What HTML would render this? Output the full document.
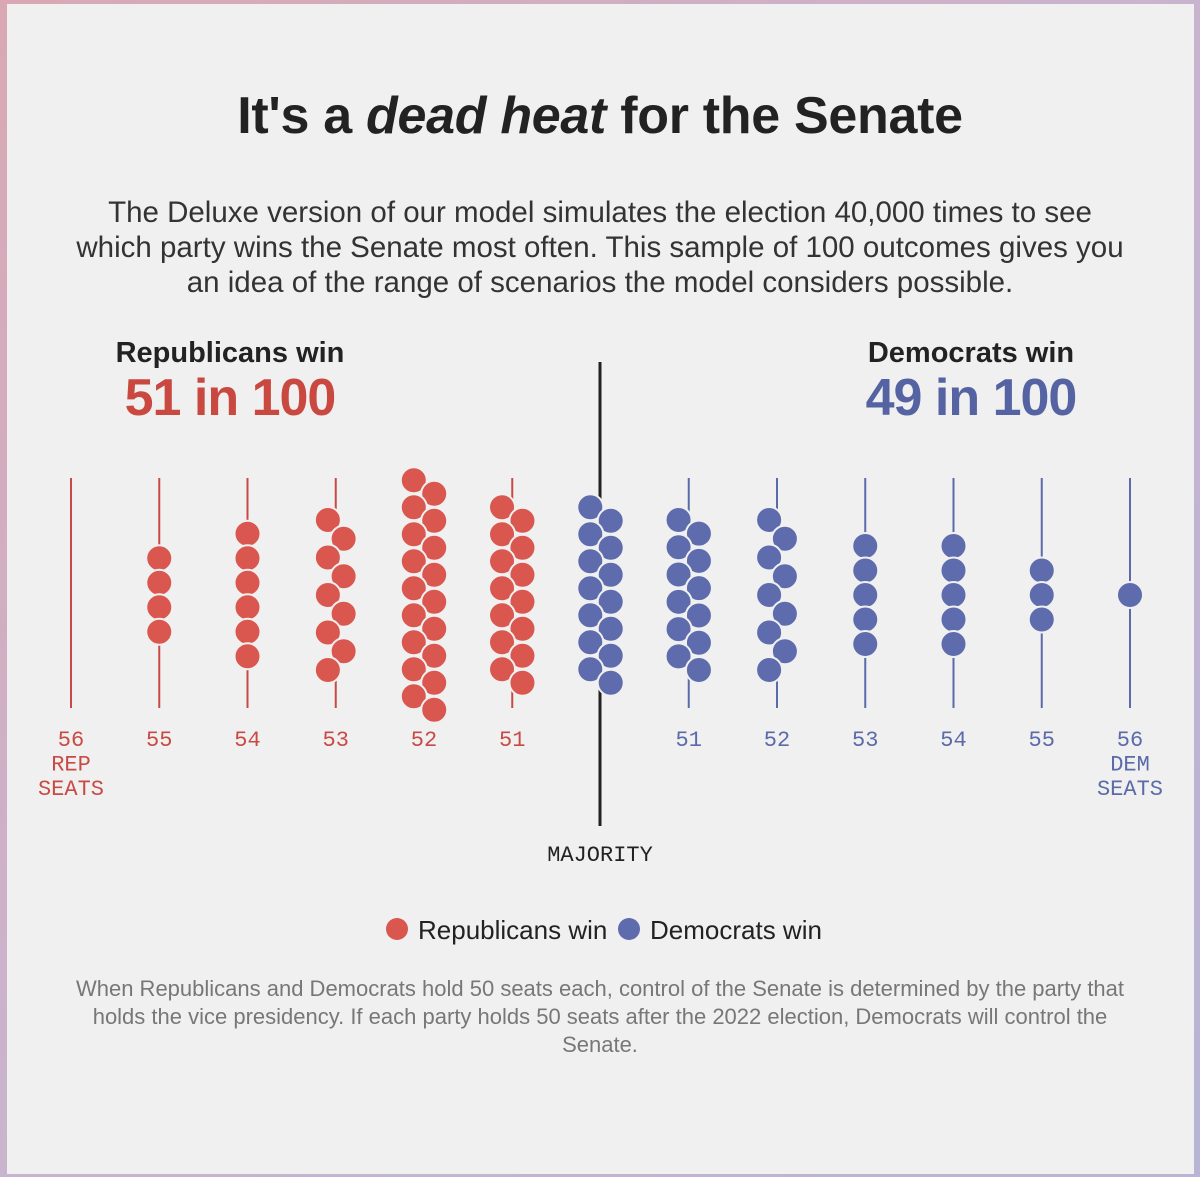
<!DOCTYPE html>
<html><head><meta charset="utf-8">
<style>
html,body{margin:0;padding:0;}
body{width:1200px;height:1177px;overflow:hidden;background:linear-gradient(135deg,#d9a8b4,#c9b4cf 50%,#b7b4d6);position:relative;font-family:"Liberation Sans",sans-serif;}
#card{position:absolute;left:7px;top:4px;width:1187px;height:1170px;background:#f0f0f0;}
.t{position:absolute;left:0;width:1200px;text-align:center;color:#222;white-space:nowrap;}
</style></head><body>
<div id="card"></div>
<div class="t" style="top:86px;font-size:52px;font-weight:bold;letter-spacing:-0.3px;">It's a <i>dead heat</i> for the Senate</div>
<div class="t" style="top:195px;font-size:29.5px;line-height:35px;color:#333;">The Deluxe version of our model simulates the election 40,000 times to see<br>which party wins the Senate most often. This sample of 100 outcomes gives you<br>an idea of the range of scenarios the model considers possible.</div>
<svg width="1200" height="1177" style="position:absolute;left:0;top:0" id="chart">
<text x="230" y="362" text-anchor="middle" font-size="29" font-weight="bold" fill="#222">Republicans win</text>
<text x="230" y="415" text-anchor="middle" font-size="52" font-weight="bold" fill="#c9483f" letter-spacing="-1">51 in 100</text>
<text x="971" y="362" text-anchor="middle" font-size="29" font-weight="bold" fill="#222">Democrats win</text>
<text x="971" y="415" text-anchor="middle" font-size="52" font-weight="bold" fill="#5563a3" letter-spacing="-1">49 in 100</text>
<line x1="600" y1="362" x2="600" y2="826" stroke="#222" stroke-width="3"/>
<text x="600" y="861" text-anchor="middle" font-size="22" font-family="Liberation Mono, monospace" fill="#222">MAJORITY</text>
<g id="cols"></g>
<circle cx="397" cy="929" r="11" fill="#d9574e"/>
<text x="418" y="939" font-size="26" fill="#222">Republicans win</text>
<circle cx="629" cy="929" r="11" fill="#5e6cad"/>
<text x="650" y="939" font-size="26" fill="#222">Democrats win</text>
</svg>
<div class="t" style="top:975px;font-size:22px;line-height:28px;color:#777;">When Republicans and Democrats hold 50 seats each, control of the Senate is determined by the party that<br>holds the vice presidency. If each party holds 50 seats after the 2022 election, Democrats will control the<br>Senate.</div>
<script>
const seatLabels = ["56","55","54","53","52","51","","51","52","53","54","55","56"];
const parties = ["R","R","R","R","R","R","D","D","D","D","D","D","D"];
const counts = [0,4,6,9,18,14,14,12,9,5,5,3,1];
const NS="http://www.w3.org/2000/svg";
const g=document.getElementById('cols');
function xScale(i){return 71+i*88.25;}
const cy=595, R=13;
function mk(tag,attrs){const e=document.createElementNS(NS,tag);for(const k in attrs)e.setAttribute(k,attrs[k]);g.appendChild(e);return e;}
counts.forEach((n,i)=>{
  const x=xScale(i);
  const red=parties[i]==="R";
  const lc=red?"#c94a44":"#5b6aa8", fc=red?"#d9574e":"#5e6cad";
  if(i!==6){
    const ln=mk('line',{x1:x,y1:478,x2:x,y2:708,stroke:lc,'stroke-width':2});
    
    
    const lines=[seatLabels[i]];
    if(i===0)lines.push("REP","SEATS");
    if(i===12)lines.push("DEM","SEATS");
    lines.forEach((s,k)=>{
      const t=mk('text',{x:x,y:746+k*24.5,'text-anchor':'middle','font-size':22,'font-family':'Liberation Mono, monospace',fill:lc});
      t.textContent=s;
      
      
    });
  }
  let step,dx;
  if(n<=6){step=24.5;dx=0;}else{step=Math.max(13.5,150/(n-1));dx=Math.sqrt(Math.max(0,600-step*step))/2;}
  for(let k=0;k<n;k++){
    const y=cy-(n-1)*step/2+k*step;
    const xo=dx?(k%2===0?-dx:dx):0;
    const c=mk('circle',{cx:x+xo,cy:y,r:R,fill:fc,stroke:'#f0f0f0','stroke-width':2});
    
    
  }
});
</script>
</body></html>
